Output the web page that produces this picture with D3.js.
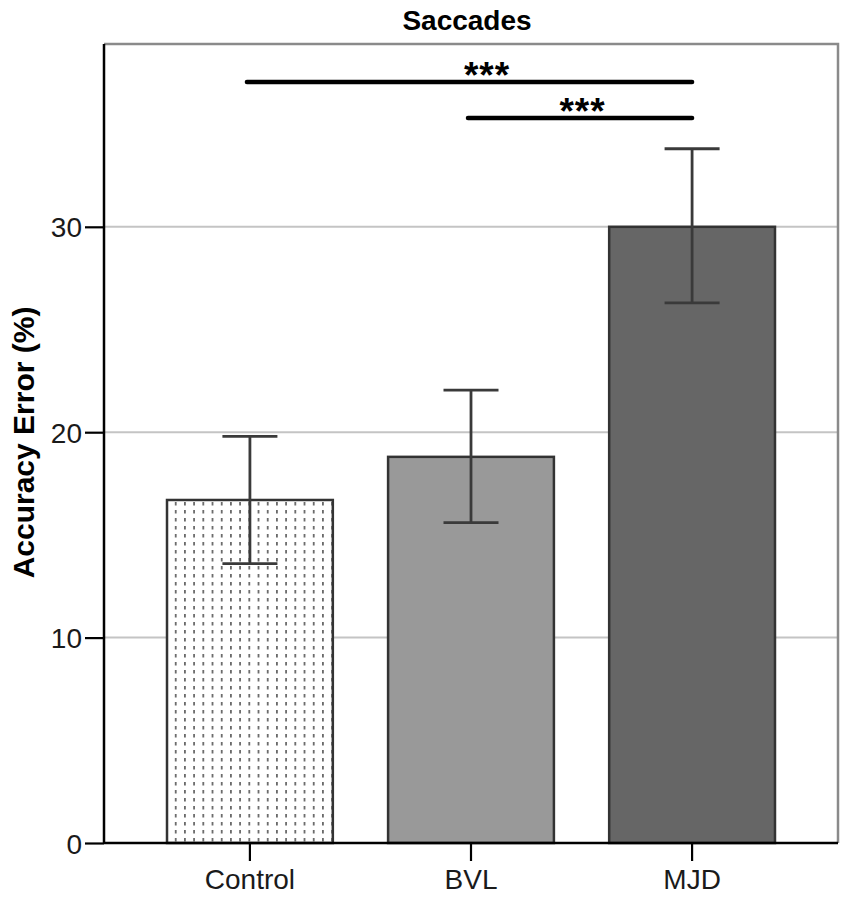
<!DOCTYPE html>
<html>
<head>
<meta charset="utf-8">
<script src="https://cdn.jsdelivr.net/npm/d3@7"></script>
<style>
  html, body { margin: 0; padding: 0; background: #fff; }
  svg { display: block; font-family: "Liberation Sans", Arial, sans-serif; }
</style>
</head>
<body>
<div id="chart"></div>
<script>
// Saccade accuracy error per group (mean with error bar limits).
const groups = ["Control", "BVL", "MJD"];
const means = [16.7, 18.8, 30.0];
const errLow = [13.6, 15.6, 26.3];
const errHigh = [19.8, 22.05, 33.8];
const fills = ["url(#dots)", "#999999", "#666666"];
const yTicks = [0, 10, 20, 30];
const gridValues = [10, 20, 30];

// Significance brackets: [from group, to group, height in % units, label]
const sigFrom = ["Control", "BVL"];
const sigTo = ["MJD", "MJD"];
const sigLevel = [37.05, 35.3];
const sigLabel = ["***", "***"];

const W = 851, H = 900;
const m = { top: 44, right: 13, bottom: 57, left: 104 };
const iw = W - m.left - m.right, ih = H - m.top - m.bottom;

const svg = d3.select("#chart").append("svg")
  .attr("width", W).attr("height", H).attr("viewBox", `0 0 ${W} ${H}`);

// dotted-dash fill for the Control bar
const pat = svg.append("defs").append("pattern")
  .attr("id", "dots").attr("patternUnits", "userSpaceOnUse")
  .attr("width", 9.2).attr("height", 8).attr("x", m.left + 68).attr("y", 0);
pat.append("rect").attr("width", 9.2).attr("height", 8).attr("fill", "#fff");
pat.append("rect").attr("x", 0).attr("y", 2).attr("width", 1.8).attr("height", 3.5).attr("fill", "#6a6a6a");

const x = d3.scaleBand().domain(groups).range([0, iw])
  .paddingInner(0.25).paddingOuter(0.285);
const y = d3.scaleLinear().domain([0, 38.9]).range([ih, 0]);

const g = svg.append("g").attr("transform", `translate(${m.left},${m.top})`);

// title
svg.append("text")
  .attr("x", m.left + iw / 2 - 4).attr("y", 30)
  .attr("text-anchor", "middle")
  .attr("font-size", 28).attr("font-weight", "bold").attr("fill", "#000")
  .text("Saccades");

// y label
svg.append("text")
  .attr("transform", `translate(34,${m.top + y(19.5)}) rotate(-90)`)
  .attr("text-anchor", "middle")
  .attr("font-size", 30).attr("font-weight", "bold").attr("fill", "#000")
  .text("Accuracy Error (%)");

// gridlines
g.append("g").selectAll("line").data(gridValues).join("line")
  .attr("x1", 0).attr("x2", iw)
  .attr("y1", d => y(d)).attr("y2", d => y(d))
  .attr("stroke", "#c4c4c4").attr("stroke-width", 2);

// frame (top/right gray)
g.append("path")
  .attr("d", `M0,0H${iw}V${ih}`)
  .attr("fill", "none").attr("stroke", "#8a8a8a").attr("stroke-width", 2.5);

// bars
const data = groups.map((k, i) => ({ k, v: means[i], lo: errLow[i], hi: errHigh[i], fill: fills[i] }));
g.append("g").selectAll("rect").data(data).join("rect")
  .attr("x", d => x(d.k)).attr("width", x.bandwidth())
  .attr("y", d => y(d.v)).attr("height", d => ih - y(d.v))
  .attr("fill", d => d.fill)
  .attr("stroke", "#333").attr("stroke-width", 2.5);

// error bars
const capW = 55;
const eb = g.append("g").attr("stroke", "#3a3a3a").attr("stroke-width", 2.8);
eb.selectAll("line.stem").data(data).join("line").attr("class", "stem")
  .attr("x1", d => x(d.k) + x.bandwidth() / 2).attr("x2", d => x(d.k) + x.bandwidth() / 2)
  .attr("y1", d => y(d.hi)).attr("y2", d => y(d.lo));
eb.selectAll("line.capHi").data(data).join("line").attr("class", "capHi")
  .attr("x1", d => x(d.k) + x.bandwidth() / 2 - capW / 2).attr("x2", d => x(d.k) + x.bandwidth() / 2 + capW / 2)
  .attr("y1", d => y(d.hi)).attr("y2", d => y(d.hi));
eb.selectAll("line.capLo").data(data).join("line").attr("class", "capLo")
  .attr("x1", d => x(d.k) + x.bandwidth() / 2 - capW / 2).attr("x2", d => x(d.k) + x.bandwidth() / 2 + capW / 2)
  .attr("y1", d => y(d.lo)).attr("y2", d => y(d.lo));

// axes
const yAxis = g.append("g").call(d3.axisLeft(y).tickValues(yTicks).tickSize(19).tickPadding(3));
const xAxis = g.append("g").attr("transform", `translate(0,${ih})`)
  .call(d3.axisBottom(x).tickSize(18).tickPadding(8));
[yAxis, xAxis].forEach(a => {
  a.select(".domain").attr("stroke", "#000").attr("stroke-width", 2.5);
  a.selectAll(".tick line").attr("stroke", "#000").attr("stroke-width", 2.2);
  a.selectAll("text").attr("font-size", 28).attr("fill", "#1a1a1a")
    .attr("font-family", "'Liberation Sans', Arial, sans-serif");
});
yAxis.select(".domain").attr("d", `M0,${ih}V0`);
xAxis.select(".domain").attr("d", `M0,0H${iw}`);
yAxis.selectAll("text").attr("dy", "0.36em");

// significance brackets
const cx = k => x(k) + x.bandwidth() / 2;
const sig = sigFrom.map((f, i) => ({ f, t: sigTo[i], v: sigLevel[i], s: sigLabel[i] }));
g.append("g").selectAll("line").data(sig).join("line")
  .attr("x1", d => cx(d.f) - 3).attr("x2", d => cx(d.t))
  .attr("y1", d => y(d.v)).attr("y2", d => y(d.v))
  .attr("stroke", "#000").attr("stroke-width", 4.5).attr("stroke-linecap", "round");
g.append("g").selectAll("text").data(sig).join("text")
  .attr("x", d => (cx(d.f) + cx(d.t)) / 2 + (d.f === "Control" ? 16 : 1))
  .attr("y", d => y(d.v) + 6)
  .attr("text-anchor", "middle")
  .attr("font-size", 37).attr("font-weight", "bold").attr("fill", "#000")
  .attr("letter-spacing", 1)
  .text(d => d.s);
</script>
</body>
</html>
